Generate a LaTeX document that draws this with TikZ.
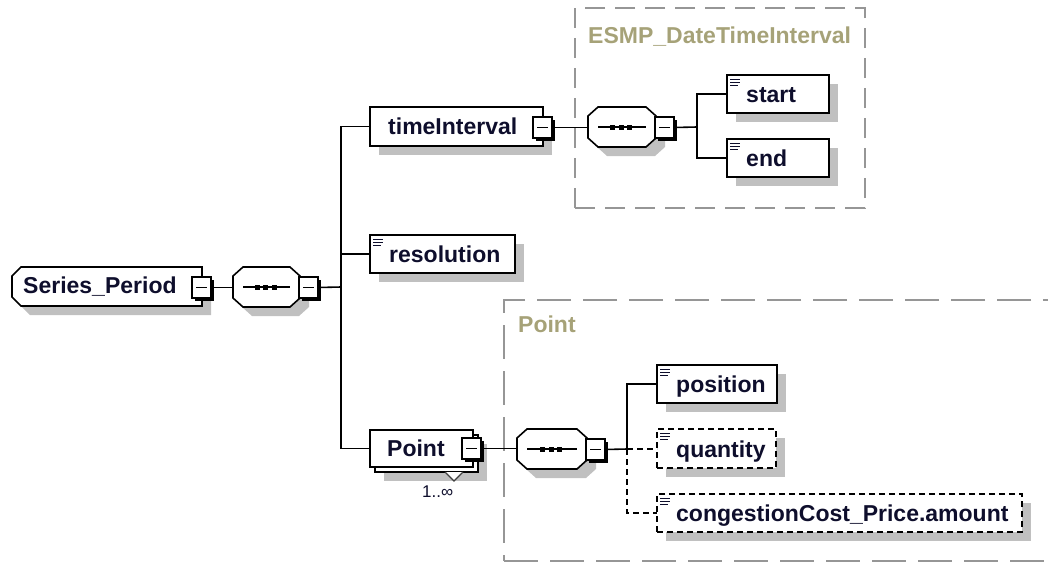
\documentclass[tikz,border=0pt]{standalone}
\usepackage{fontspec}
\setmainfont{Liberation Sans}
\usetikzlibrary{shadows,calc}

\definecolor{shadowgray}{RGB}{192,192,192}
\definecolor{framegray}{RGB}{150,150,150}
\definecolor{framelabel}{RGB}{166,162,120}
\definecolor{ink}{RGB}{14,14,44}

\tikzset{
  lw/.style={line width=1.6pt},
  boxshadow/.style={drop shadow={shadow xshift=9pt, shadow yshift=-9pt, fill=shadowgray, opacity=1}},
  plainbox/.style={draw, lw, fill=white, inner sep=0pt, outer sep=0pt, anchor=north west},
  elembox/.style={plainbox, boxshadow},
  optbox/.style={elembox, dash pattern=on 6pt off 4pt},
  leaficon/.style={path picture={
      \foreach \yy/\ll in {4.5/10,7.5/10,10.5/8}
        \draw[solid, line width=1.2pt, ink]
          ([xshift=3pt,yshift=-\yy pt]path picture bounding box.north west) -- ++(\ll pt,0pt);
  }},
  elemtext/.style={font=\fontsize{23}{27}\selectfont\bfseries, text=ink, inner sep=0pt, anchor=base west},
  framelbl/.style={elemtext, text=framelabel},
  occtext/.style={font=\fontsize{17}{20}\selectfont, text=ink, inner sep=0pt, anchor=base west},
  groupframe/.style={draw=framegray, lw, inner sep=0pt, outer sep=0pt, anchor=north west},
  minusbox/.style={draw, line width=1.4pt, fill=white, inner sep=0pt, outer sep=0pt,
      minimum width=19pt, minimum height=21pt, anchor=north west,
      drop shadow={shadow xshift=2.5pt, shadow yshift=-2.5pt, fill=black, opacity=1},
      path picture={\draw[line width=1.4pt]
          ([xshift=-5.5pt]path picture bounding box.center) --
          ([xshift=5.5pt]path picture bounding box.center);}},
  conn/.style={lw},
  optconn/.style={lw, dash pattern=on 6pt off 4pt},
}

% sequence compositor: name, left, top, width
\newcommand\seqgroup[4]{%
  \fill[shadowgray, shift={(9,9)}] (#2+10,#3) -- (#2+#4-10,#3) -- (#2+#4,#3+9) -- (#2+#4,#3+31)
     -- (#2+#4-10,#3+40) -- (#2+10,#3+40) -- (#2,#3+31) -- (#2,#3+9) -- cycle;
  \draw[lw, fill=white] (#2+10,#3) -- (#2+#4-10,#3) -- (#2+#4,#3+9) -- (#2+#4,#3+31)
     -- (#2+#4-10,#3+40) -- (#2+10,#3+40) -- (#2,#3+31) -- (#2,#3+9) -- cycle;
  \node[inner sep=0pt, outer sep=0pt, minimum width=#4pt, minimum height=40pt, anchor=north west] (#1) at (#2,#3) {};
  \draw[lw] (#2+10,#3+20) -- (#2+#4-10,#3+20);
  \foreach \d in {-8.5,0,8.5}
    \fill ($(#1.center)+(\d-3.5,-2.5)$) rectangle ++(5,5);
  \node[minusbox] (#1m) at (#2+#4-1,#3+10) {};
}

\begin{document}
\begin{tikzpicture}[x=1pt,y=-1pt]
\useasboundingbox (0,0) rectangle (1048,563);
\clip (0,0) rectangle (1048,563);

% group frames
\node[groupframe, dash pattern=on 20pt off 10pt, minimum width=290pt, minimum height=200pt] (esmpframe) at (575,8) {};
\node[framelbl] (esmplabel) at (588,43) {ESMP\_DateTimeInterval};
\node[groupframe, dash pattern=on 34pt off 12pt, minimum width=570pt, minimum height=261pt] (pointframe) at (504,300) {};
\node[framelbl] (pointlabel) at (518,332) {Point};

% root element
\fill[shadowgray, shift={(9,9)}] (21,267) -- (202,267) -- (202,306) -- (21,306) -- (12,297) -- (12,276) -- cycle;
\draw[lw, fill=white] (21,267) -- (202,267) -- (202,306) -- (21,306) -- (12,297) -- (12,276) -- cycle;
\node[inner sep=0pt, outer sep=0pt, minimum width=190pt, minimum height=39pt, anchor=north west] (sp) at (12,267) {};
\node[elemtext] (spt) at (23,293) {Series\_Period};
\node[minusbox] (spm) at (192,277) {};

\seqgroup{seqA}{233}{267}{67}
\coordinate (ta) at (341,287);

% timeInterval
\node[elembox, minimum width=173pt, minimum height=39pt] (ti) at (370,107) {};
\node[elemtext] (tit) at (388,134) {timeInterval};
\node[minusbox] (tim) at (533,117) {};

\seqgroup{seqB}{588}{107}{68}
\coordinate (tb) at (697,127);

\node[elembox, leaficon, minimum width=102pt, minimum height=38pt] (start) at (727,75) {};
\node[elemtext] (startt) at (746,102) {start};
\node[elembox, leaficon, minimum width=102pt, minimum height=38pt] (end) at (727,139) {};
\node[elemtext] (endt) at (746,166) {end};

% resolution
\node[elembox, leaficon, minimum width=145pt, minimum height=38pt] (res) at (370,235) {};
\node[elemtext] (rest) at (389,262) {resolution};

% Point (repeated element)
\node[elembox, minimum width=103pt, minimum height=37pt] (pointb) at (375,435) {};
\node[plainbox, minimum width=103pt, minimum height=37pt] (point) at (370,430) {};
\node[elemtext] (pointt) at (387,456) {Point};
\node[minusbox] (pointm) at (462,438) {};
\filldraw[fill=white, draw=black!75, line width=1.2pt] (445,472) -- (454,481) -- (463,472);
\node[occtext] (pointocc) at (422,497) {1..∞};

\seqgroup{seqC}{517}{429}{70}
\coordinate (tc) at (627,449);

\node[elembox, leaficon, minimum width=120pt, minimum height=38pt] (pos) at (657,365) {};
\node[elemtext] (post) at (676,392) {position};
\node[optbox, leaficon, minimum width=119pt, minimum height=39pt] (qty) at (657,429) {};
\node[elemtext] (qtyt) at (676,457) {quantity};
\node[optbox, leaficon, minimum width=365pt, minimum height=38pt] (cong) at (657,494) {};
\node[elemtext] (congt) at (676,521) {congestionCost\_Price.amount};

% connectors
\draw[conn] (spm.east) -- (spm.east -| seqA.west);
\draw[conn] (seqAm.east) -- (ta);
\draw[conn] (ta) |- (ti.west);
\draw[conn] (ta) |- (res.west);
\draw[conn] (ta) |- (point.west);
\draw[conn] (tim.east) -- (tim.east -| seqB.west);
\draw[conn] (seqBm.east) -- (tb);
\draw[conn] (tb) |- (start.west);
\draw[conn] (tb) |- (end.west);
\draw[conn] (pointm.east) -- (pointm.east -| seqC.west);
\draw[conn] (seqCm.east) -- (tc);
\draw[conn] (tc) |- (pos.west);
\draw[optconn] (tc) -- (qty.west |- tc);
\draw[optconn] (tc) |- (cong.west);
\end{tikzpicture}
\end{document}
